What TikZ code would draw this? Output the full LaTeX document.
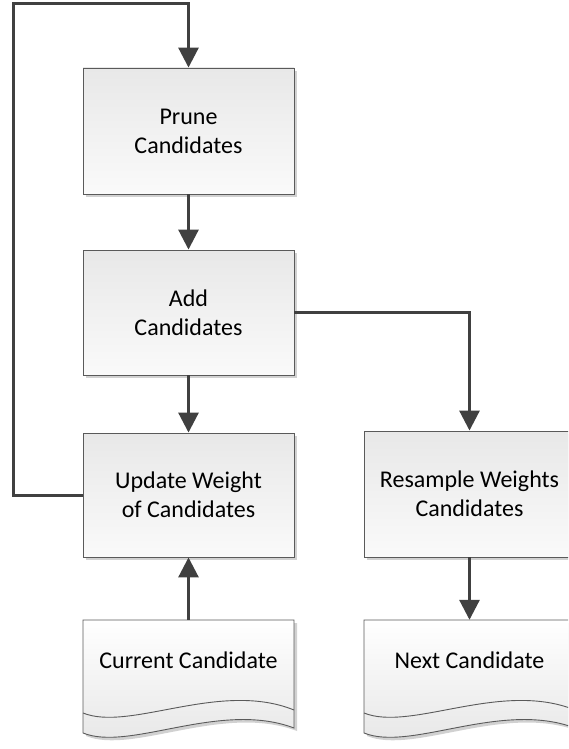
\documentclass[tikz,border=0pt]{standalone}
\usepackage{fontspec}
\setmainfont{Carlito}
\usetikzlibrary{arrows.meta,shadows}
\definecolor{linec}{HTML}{404040}
\definecolor{edgec}{HTML}{5A5A5A}
\begin{document}
\begin{tikzpicture}[x=1pt,y=-1pt,
  procbox/.style={draw=edgec, line width=0.9pt, minimum width=211pt, minimum height=126pt,
    top color=black!9, bottom color=black!2, align=center,
    font=\fontsize{24}{29}\selectfont, inner sep=0pt,
    drop shadow={shadow xshift=3pt, shadow yshift=-3pt, fill=black!18, opacity=1}},
  doclabel/.style={font=\fontsize{24}{29}\selectfont, inner sep=0pt},
  docarea/.style={minimum width=211pt, minimum height=113pt, inner sep=0pt},
  conn/.style={draw=linec, line width=3pt, -{Triangle[length=20pt,width=20pt]}},
  docshape/.pic={
    \fill[black!18] (3,3) -- (214,3) -- (214,111) .. controls (140,83) and (50,135) .. (3,116) -- cycle;
    \path[draw=edgec, line width=0.9pt, top color=white, bottom color=black!10]
      (0,0) -- (211,0) -- (211,108) .. controls (137,80) and (47,132) .. (0,113) -- cycle;
    \draw[edgec, line width=0.9pt] (0,93) .. controls (47,112) and (137,60) .. (211,90);
  }
]
\useasboundingbox (0,0) rectangle (568,749);
\clip (0,0) rectangle (568,749);

% document shapes
\pic at (83,620) {docshape};
\pic at (364,620) {docshape};
\node[docarea] (cur) at (188.5,676.5) {};
\node[docarea] (nxt) at (469.5,676.5) {};
\node[doclabel] (curtext) at (188.5,660) {Current Candidate};
\node[doclabel] (nxttext) at (469.5,660) {Next Candidate};

% process boxes
\node[procbox] (prune) at (188.5,131) {Prune\\Candidates};
\node[procbox, minimum height=125pt] (add) at (188.5,312.5) {Add\\Candidates};
\node[procbox, minimum height=124pt] (upd) at (188.5,495) {Update Weight\\of Candidates};
\node[procbox] (res) at (469.5,494) {Resample Weights\\Candidates};

\coordinate (loopL) at (13,4);

% connectors
\draw[conn] (upd.west) -| (loopL) -| (prune.north);
\draw[conn] (prune) -- (add);
\draw[conn] (add) -- (upd);
\draw[conn] (add.east) -| (res.north);
\draw[conn] (cur.north) -- (upd.south);
\draw[conn] (res.south) -- (nxt.north);
\end{tikzpicture}
\end{document}
